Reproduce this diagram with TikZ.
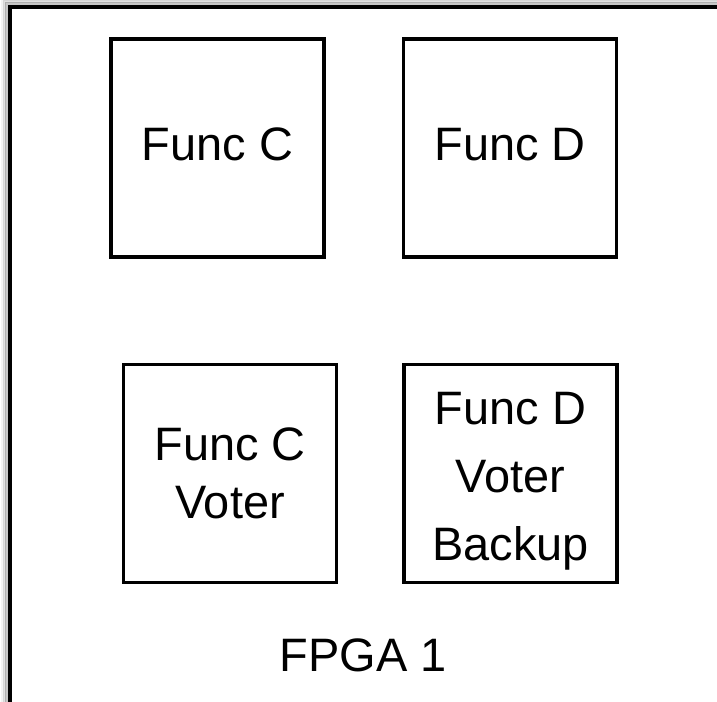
\documentclass[tikz,border=0pt]{standalone}
\usepackage{fontspec}
\setmainfont{Liberation Sans}
\usetikzlibrary{positioning}

\begin{document}
\begin{tikzpicture}[x=1cm,y=1cm,
    funcbox/.style={draw=black,line width=2.1pt,fill=white,minimum width=4.26cm,minimum height=4.36cm,
      inner sep=0pt,align=center,font=\fontsize{26.7}{33}\selectfont},
    shade/.style={line width=1.2pt,black}]
      \useasboundingbox (0,0) rectangle (14.34,14.02);
      % soft edge round the board
      \foreach \d/\o in {0.07/0.22,0.11/0.12,0.15/0.05}
        \draw[shade,opacity=\o] (0.2-\d,-0.5) -- (0.2-\d,13.88+\d) -- (14.6,13.88+\d);
      \draw[line width=2.3pt,black,fill=white] (0.2,-0.5) rectangle (14.8,13.88);
      \node[funcbox] (funcC) at (4.35,11.06) {Func C\rule[-4pt]{0pt}{0pt}};
      \node[funcbox] (funcD) at (10.2,11.06) {Func D\rule[-4pt]{0pt}{0pt}};
      \node[funcbox] (funcCVoter) at (4.6,4.55) {Func C\\Voter};
      \node[funcbox,font=\fontsize{26.7}{38.5}\selectfont] (funcDBackup) at (10.21,4.55)
        {\rule{0pt}{27pt}Func D\\Voter\\Backup};
      \node[font=\fontsize{26.7}{33}\selectfont] (fpga) at (7.26,0.92) {FPGA 1};
    \end{tikzpicture}
\end{document}
